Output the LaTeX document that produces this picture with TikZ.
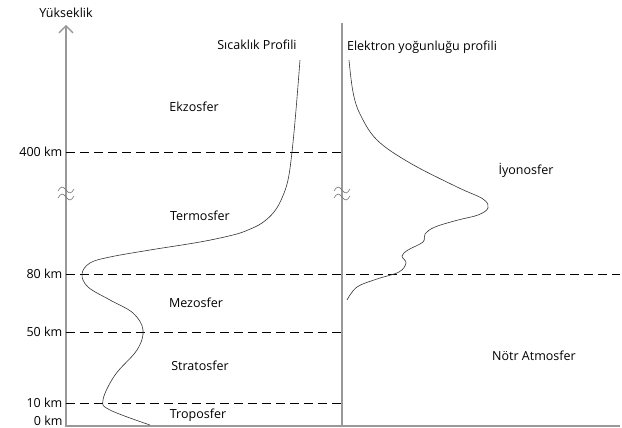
\documentclass[tikz,border=0pt]{standalone}
\usepackage{fontspec}
\setmainfont{Open Sans}
\usetikzlibrary{arrows.meta}
\begin{document}
\begin{tikzpicture}[x=1pt,y=-1pt,font=\fontsize{12.5}{14}\selectfont,
	axis/.style={draw=black!40,line width=1.3pt},
	level/.style={dash pattern=on 9pt off 5pt,line width=0.7pt},
	profile/.style={black!80,line width=0.6pt},
	breakmark/.style={black!55,line width=0.6pt}]
	\useasboundingbox (0,0) rectangle (622,428);
	\draw[axis,{Straight Barb[length=7pt,width=14pt]}-] (66,25) coordinate (Y) -- (66,426) coordinate (O) -- (620,426) coordinate (X);
	\draw[axis] (342,23) coordinate (R) -- (342,426) coordinate (Rb);
	\node (yuk) at (66,13) {Yükseklik};
	\draw[level] (66,152) coordinate (A) node[left] (h400) {400 km} -- (342,152);
	\draw[level] (66,274) coordinate (B) node[left] (h80) {80 km} -- (620,274);
	\draw[level] (66,332) coordinate (C) node[left] (h50) {50 km} -- (342,332);
	\draw[level] (66,403) coordinate (D) node[left] (h10) {10 km} -- (342,403);
	\node[left] (h0) at (66,421) {0 km};
	\foreach \x in {66,342} {
		\draw[breakmark] (\x-8,191) sin (\x-4,187) cos (\x,190) sin (\x+4,193) cos (\x+8,189);
		\draw[breakmark] (\x-8,198) sin (\x-4,194) cos (\x,197) sin (\x+4,200) cos (\x+8,196);
	}
	\draw[profile] plot[smooth,tension=0.6] coordinates {(300,60) (296,110) (292,152) (288,180) (282,198) (274,212) (262,223) (248,230) (233,235) (200,242) (150,250) (110,257) (90,263) (82,274) (88,287) (110,300) (133,313) (143,330) (137,350) (115,375) (103,400) (110,410) (150,425)};
	\draw[profile] plot[smooth,tension=0.6] coordinates {(349,60) (353,92) (360,114) (377,140) (410,163) (457,187) (483,199) (488,208) (478,215) (458,220) (435,227) (425,234) (423,242) (408,250) (402,256) (406,263) (399,272) (377,279) (357,287) (347,300)};
	\node (sicak) at (257,45) {Sıcaklık Profili};
	\node (elek) at (422,47) {Elektron yoğunluğu profili};
	\node (ekzo) at (194,107) {Ekzosfer};
	\node (termo) at (200,216) {Termosfer};
	\node (mezo) at (196,303) {Mezosfer};
	\node (strato) at (200,366) {Stratosfer};
	\node (tropo) at (198,415) {Troposfer};
	\node (iyono) at (526,170) {İyonosfer};
	\node (notr) at (534,356) {Nötr Atmosfer};
\end{tikzpicture}
\end{document}
